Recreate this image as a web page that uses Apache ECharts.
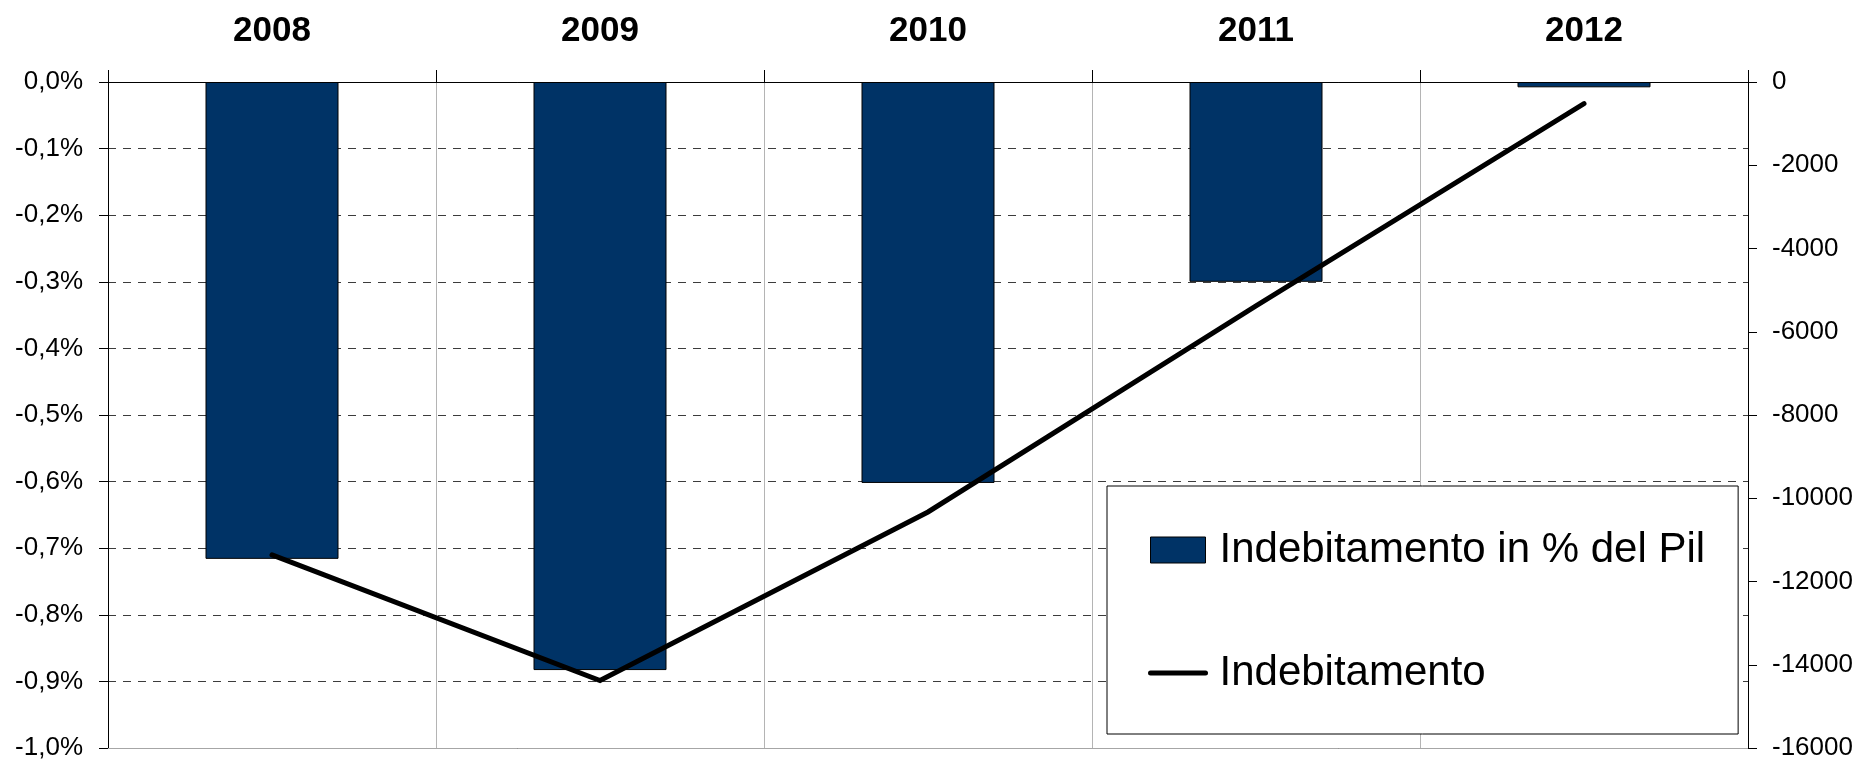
<!DOCTYPE html>
<html>
<head>
<meta charset="utf-8">
<script src="https://cdn.jsdelivr.net/npm/echarts@6/dist/echarts.min.js"></script>
<style>
html,body{margin:0;padding:0;background:#fff;}
#chart{width:1872px;height:761px;}
</style>
</head>
<body>
<div id="chart"></div>
<script>
var categories = ['2008', '2009', '2010', '2011', '2012'];
var pilPercent = [-0.716, -0.883, -0.602, -0.300, -0.008];
var indebitamento = [-11360, -14380, -10330, -5380, -520];
var barName = 'Indebitamento in % del Pil';
var lineName = 'Indebitamento';

var FONT = '"Liberation Sans", Arial, sans-serif';
var chart = echarts.init(document.getElementById('chart'), null, {renderer: 'canvas'});
chart.setOption({
  animation: false,
  backgroundColor: '#ffffff',
  grid: {left: 108, right: 124, top: 82, bottom: 13, containLabel: false},
  legend: {
    orient: 'vertical',
    left: 1107,
    top: 486,
    padding: [43, 33, 40, 41],
    itemGap: 81,
    itemWidth: 55,
    itemHeight: 26,
    borderColor: '#000',
    borderWidth: 1,
    backgroundColor: '#fff',
    textStyle: {fontFamily: FONT, fontSize: 42, color: '#000', padding: [0, 0, 0, 9]},
    data: [
      {name: barName, icon: 'rect', itemStyle: {color: '#003366', borderColor: '#000', borderWidth: 1}},
      {name: lineName, itemStyle: {color: 'rgba(0,0,0,0)', borderWidth: 0, opacity: 0},
        lineStyle: {color: '#000', width: 5, cap: 'round'}}
    ]
  },
  xAxis: [{
    type: 'category',
    data: categories,
    position: 'top',
    axisLine: {onZero: false, lineStyle: {color: '#000', width: 1}},
    axisTick: {show: true, length: 12, lineStyle: {color: '#000'}},
    axisLabel: {fontFamily: FONT, fontSize: 35, fontWeight: 'bold', color: '#000', margin: 33},
    splitLine: {show: true, lineStyle: {color: '#b4b4b4', width: 1}}
  }, {
    type: 'category',
    data: categories,
    position: 'bottom',
    axisLine: {onZero: false, lineStyle: {color: '#a6a6a6', width: 1}},
    axisTick: {show: false},
    axisLabel: {show: false},
    splitLine: {show: false}
  }],
  yAxis: [{
    type: 'value',
    min: -1.0,
    max: 0,
    interval: 0.1,
    position: 'left',
    axisLine: {show: true, lineStyle: {color: '#000', width: 1}},
    axisTick: {show: true, length: 9, lineStyle: {color: '#000'}},
    axisLabel: {fontFamily: FONT, fontSize: 26, color: '#000', margin: 25,
      formatter: function (v) { return v.toFixed(1).replace('.', ',') + '%'; }},
    splitLine: {show: true, lineStyle: {color: '#3c3c3c', width: 1, type: [8, 7]}}
  }, {
    type: 'value',
    min: -16000,
    max: 0,
    interval: 2000,
    position: 'right',
    axisLine: {show: true, lineStyle: {color: '#000', width: 1}},
    axisTick: {show: true, length: 9, lineStyle: {color: '#000'}},
    axisLabel: {fontFamily: FONT, fontSize: 26, color: '#000', margin: 24,
      formatter: function (v) { return String(Math.round(v)); }},
    splitLine: {show: false}
  }],
  series: [{
    name: barName,
    type: 'bar',
    xAxisIndex: 0,
    yAxisIndex: 0,
    data: pilPercent,
    barWidth: 133,
    itemStyle: {color: '#003366', borderColor: '#000', borderWidth: 1},
    z: 2
  }, {
    name: lineName,
    type: 'line',
    xAxisIndex: 0,
    yAxisIndex: 1,
    data: indebitamento,
    symbol: 'none',
    lineStyle: {color: '#000', width: 5, cap: 'round', join: 'miter'},
    itemStyle: {color: '#000'},
    z: 3
  }]
});
</script>
</body>
</html>
